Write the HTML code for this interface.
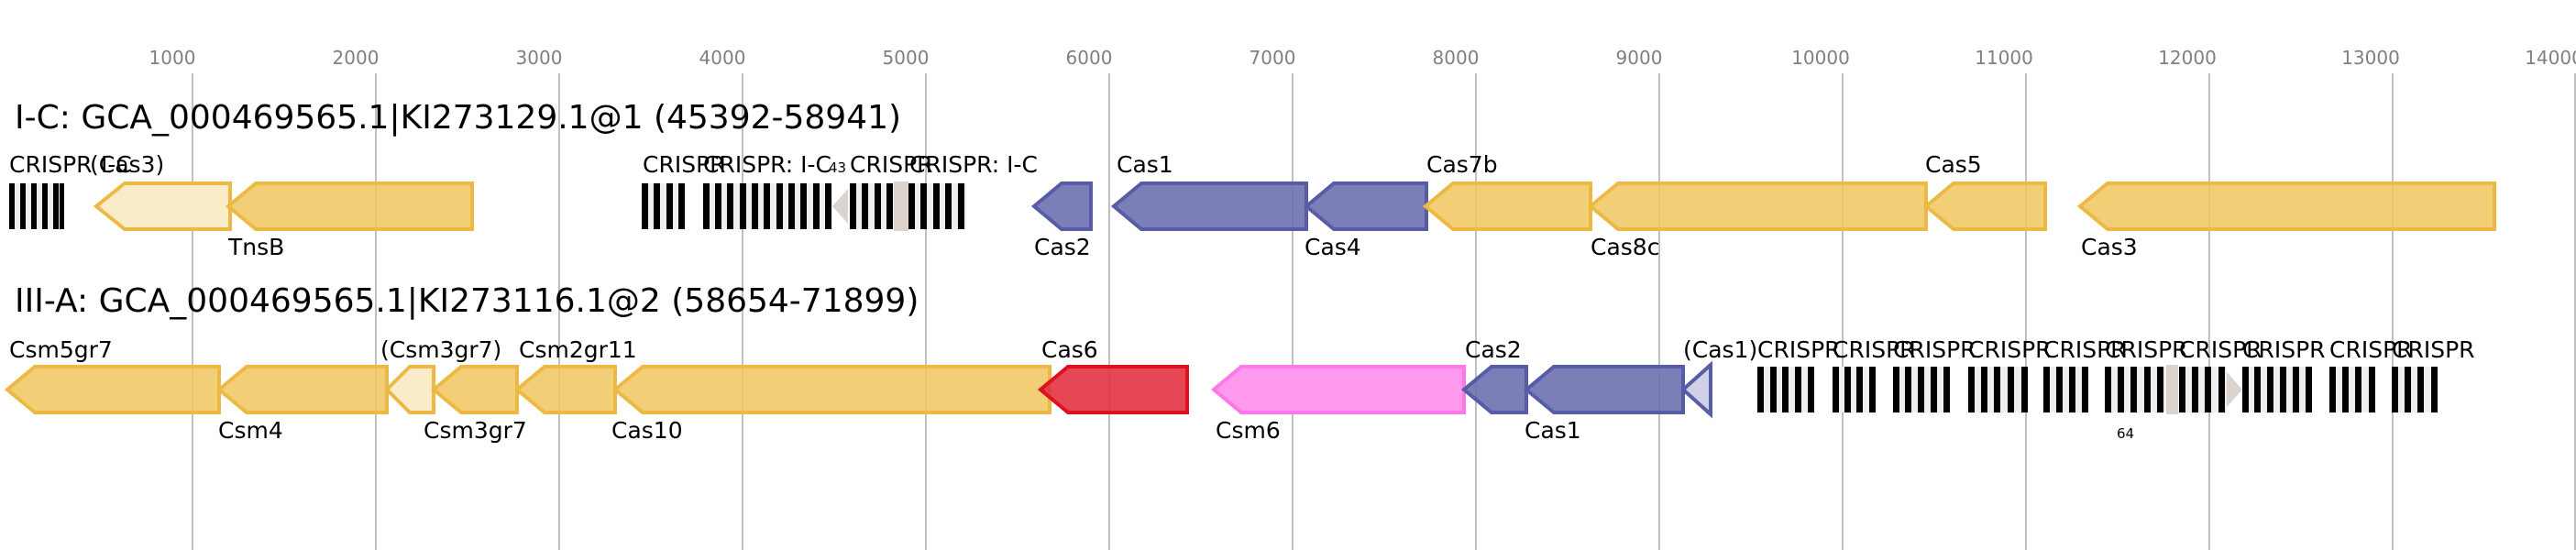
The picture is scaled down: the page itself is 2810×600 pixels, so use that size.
<!DOCTYPE html>
<html><head><meta charset="utf-8"><style>
html,body{margin:0;padding:0;background:#fff;}
svg{display:block;font-family:"DejaVu Sans","Liberation Sans",sans-serif;}
.t{font-size:20px;fill:#808080;text-anchor:middle}
.l{font-size:25px;fill:#000}
.h{font-size:36px;fill:#000}
.y{fill:#f0c65e;fill-opacity:.85;stroke:#ebb944;stroke-width:4}
.yl{fill:#faebc9;stroke:#ebb944;stroke-width:4}
.b{fill:#6a6cae;fill-opacity:.88;stroke:#585ca6;stroke-width:4}
.bl{fill:#d0d1e6;stroke:#585ca6;stroke-width:4}
.r{fill:#e33343;fill-opacity:.9;stroke:#dd1122;stroke-width:4}
.p{fill:#ff99ee;stroke:#ff77e8;stroke-width:4}
.k{fill:#000}
.g{fill:#eeeeee}
.be{fill:#dcd3cc}
</style></head><body>
<svg width="2810" height="600" viewBox="0 0 2810 600">
<g stroke="#c0c0c0" stroke-width="2">
<line x1="210" y1="80" x2="210" y2="600"/><line x1="410" y1="80" x2="410" y2="600"/><line x1="610" y1="80" x2="610" y2="600"/><line x1="810" y1="80" x2="810" y2="600"/><line x1="1010" y1="80" x2="1010" y2="600"/><line x1="1210" y1="80" x2="1210" y2="600"/><line x1="1410" y1="80" x2="1410" y2="600"/><line x1="1610" y1="80" x2="1610" y2="600"/><line x1="1810" y1="80" x2="1810" y2="600"/><line x1="2010" y1="80" x2="2010" y2="600"/><line x1="2210" y1="80" x2="2210" y2="600"/><line x1="2410" y1="80" x2="2410" y2="600"/><line x1="2610" y1="80" x2="2610" y2="600"/><line x1="2809" y1="80" x2="2809" y2="600"/>
</g>
<g class="t">
<text x="188" y="70">1000</text><text x="388" y="70">2000</text><text x="588" y="70">3000</text><text x="788" y="70">4000</text><text x="988" y="70">5000</text><text x="1188" y="70">6000</text><text x="1388" y="70">7000</text><text x="1588" y="70">8000</text><text x="1788" y="70">9000</text><text x="1986" y="70">10000</text><text x="2186" y="70">11000</text><text x="2386" y="70">12000</text><text x="2586" y="70">13000</text><text x="2786" y="70">14000</text>
</g>

<text class="h" x="16" y="140">I-C: GCA_000469565.1|KI273129.1@1 (45392-58941)</text>

<rect class="g" x="10" y="200" width="60" height="50"/>
<rect class="k" x="10" y="200" width="6" height="50"/><rect class="k" x="22" y="200" width="6" height="50"/><rect class="k" x="34" y="200" width="6" height="50"/><rect class="k" x="46" y="200" width="6" height="50"/><rect class="k" x="58" y="200" width="6" height="50"/><rect class="k" x="65" y="200" width="5" height="50"/>
<rect class="g" x="700" y="200" width="47" height="50"/>
<rect class="k" x="700" y="200" width="7" height="50"/><rect class="k" x="713" y="200" width="7" height="50"/><rect class="k" x="727" y="200" width="7" height="50"/><rect class="k" x="740" y="200" width="7" height="50"/>
<rect class="g" x="767" y="200" width="141" height="50"/>
<rect class="k" x="767" y="200" width="7" height="50"/><rect class="k" x="780" y="200" width="7" height="50"/><rect class="k" x="793" y="200" width="7" height="50"/><rect class="k" x="807" y="200" width="7" height="50"/><rect class="k" x="820" y="200" width="7" height="50"/><rect class="k" x="833" y="200" width="7" height="50"/><rect class="k" x="847" y="200" width="7" height="50"/><rect class="k" x="860" y="200" width="7" height="50"/><rect class="k" x="873" y="200" width="7" height="50"/><rect class="k" x="887" y="200" width="7" height="50"/><rect class="k" x="900" y="200" width="7" height="50"/>
<polygon fill="#dcd3cc" points="908,225 925,206 925,244"/>
<rect class="g" x="927" y="200" width="48" height="50"/>
<rect class="k" x="927" y="200" width="7" height="50"/><rect class="k" x="940" y="200" width="7" height="50"/><rect class="k" x="954" y="200" width="7" height="50"/><rect class="k" x="967" y="200" width="7" height="50"/>
<rect class="be" x="975" y="198" width="16" height="54"/>
<rect class="g" x="991" y="200" width="63" height="50"/>
<rect class="k" x="991" y="200" width="7" height="50"/><rect class="k" x="1004" y="200" width="7" height="50"/><rect class="k" x="1018" y="200" width="7" height="50"/><rect class="k" x="1031" y="200" width="7" height="50"/><rect class="k" x="1045" y="200" width="7" height="50"/>

<polygon class="yl" points="105,225 136,200 251,200 251,250 136,250"/>
<polygon class="y" points="249,225 279,200 515,200 515,250 279,250"/>
<polygon class="b" points="1128,225 1158,200 1190,200 1190,250 1158,250"/>
<polygon class="b" points="1215,225 1245,200 1425,200 1425,250 1245,250"/>
<polygon class="b" points="1425,225 1455,200 1556,200 1556,250 1455,250"/>
<polygon class="y" points="1555,225 1585,200 1735,200 1735,250 1585,250"/>
<polygon class="y" points="1735,225 1765,200 2101,200 2101,250 1765,250"/>
<polygon class="y" points="2101,225 2131,200 2231,200 2231,250 2131,250"/>
<polygon class="y" points="2269,225 2299,200 2721,200 2721,250 2299,250"/>

<g class="l">
<text x="10" y="188">CRISPR</text><text x="98" y="188">(Cas3)</text><text x="110" y="188">I-C</text>
<text x="249" y="278">TnsB</text>
<text x="701" y="188">CRISPR</text><text x="767" y="188">CRISPR: I-C</text>
<text x="904" y="188" style="font-size:15px">43</text>
<text x="927" y="188">CRISPR</text><text x="992" y="188">CRISPR: I-C</text>
<text x="1128" y="278">Cas2</text>
<text x="1218" y="188">Cas1</text>
<text x="1423" y="278">Cas4</text>
<text x="1556" y="188">Cas7b</text>
<text x="1735" y="278">Cas8c</text>
<text x="2100" y="188">Cas5</text>
<text x="2270" y="278">Cas3</text>
</g>

<text class="h" x="16" y="340">III-A: GCA_000469565.1|KI273116.1@2 (58654-71899)</text>

<polygon class="y" points="8,425 38,400 239,400 239,450 38,450"/>
<polygon class="y" points="239,425 269,400 422,400 422,450 269,450"/>
<polygon class="yl" points="422,425 447,400 473,400 473,450 447,450"/>
<polygon class="y" points="473,425 503,400 564,400 564,450 503,450"/>
<polygon class="y" points="564,425 594,400 671,400 671,450 594,450"/>
<polygon class="y" points="671,425 701,400 1145,400 1145,450 701,450"/>
<polygon class="r" points="1135,425 1165,400 1295,400 1295,450 1165,450"/>
<polygon class="p" points="1324,425 1354,400 1597,400 1597,450 1354,450"/>
<polygon class="b" points="1597,425 1627,400 1665,400 1665,450 1627,450"/>
<polygon class="b" points="1665,425 1695,400 1836,400 1836,450 1695,450"/>
<polygon class="bl" points="1836,425 1866,398 1866,452"/>

<rect class="g" x="1917" y="400" width="62" height="50"/>
<rect class="k" x="1917" y="400" width="7" height="50"/><rect class="k" x="1931" y="400" width="7" height="50"/><rect class="k" x="1944" y="400" width="7" height="50"/><rect class="k" x="1958" y="400" width="7" height="50"/><rect class="k" x="1972" y="400" width="7" height="50"/>
<rect class="g" x="1999" y="400" width="47" height="50"/>
<rect class="k" x="1999" y="400" width="7" height="50"/><rect class="k" x="2012" y="400" width="7" height="50"/><rect class="k" x="2025" y="400" width="7" height="50"/><rect class="k" x="2039" y="400" width="7" height="50"/>
<rect class="g" x="2065" y="400" width="62" height="50"/>
<rect class="k" x="2065" y="400" width="7" height="50"/><rect class="k" x="2078" y="400" width="7" height="50"/><rect class="k" x="2092" y="400" width="7" height="50"/><rect class="k" x="2106" y="400" width="7" height="50"/><rect class="k" x="2120" y="400" width="7" height="50"/>
<rect class="g" x="2147" y="400" width="65" height="50"/>
<rect class="k" x="2147" y="400" width="7" height="50"/><rect class="k" x="2161" y="400" width="7" height="50"/><rect class="k" x="2175" y="400" width="7" height="50"/><rect class="k" x="2190" y="400" width="7" height="50"/><rect class="k" x="2205" y="400" width="7" height="50"/>
<rect class="g" x="2229" y="400" width="49" height="50"/>
<rect class="k" x="2229" y="400" width="7" height="50"/><rect class="k" x="2243" y="400" width="7" height="50"/><rect class="k" x="2257" y="400" width="7" height="50"/><rect class="k" x="2271" y="400" width="7" height="50"/>
<rect class="g" x="2296" y="400" width="66" height="50"/>
<rect class="k" x="2296" y="400" width="7" height="50"/><rect class="k" x="2310" y="400" width="7" height="50"/><rect class="k" x="2324" y="400" width="7" height="50"/><rect class="k" x="2339" y="400" width="7" height="50"/><rect class="k" x="2353" y="400" width="7" height="50"/>
<rect class="be" x="2363" y="398" width="13" height="54"/>
<rect class="g" x="2377" y="400" width="52" height="50"/>
<rect class="k" x="2377" y="400" width="7" height="50"/><rect class="k" x="2391" y="400" width="7" height="50"/><rect class="k" x="2405" y="400" width="7" height="50"/><rect class="k" x="2420" y="400" width="7" height="50"/>
<polygon fill="#dcd3cc" points="2429,406 2446,425 2429,444"/>
<rect class="g" x="2446" y="400" width="76" height="50"/>
<rect class="k" x="2446" y="400" width="7" height="50"/><rect class="k" x="2459" y="400" width="7" height="50"/><rect class="k" x="2473" y="400" width="7" height="50"/><rect class="k" x="2487" y="400" width="7" height="50"/><rect class="k" x="2501" y="400" width="7" height="50"/><rect class="k" x="2515" y="400" width="7" height="50"/>
<rect class="g" x="2541" y="400" width="50" height="50"/>
<rect class="k" x="2541" y="400" width="7" height="50"/><rect class="k" x="2555" y="400" width="7" height="50"/><rect class="k" x="2569" y="400" width="7" height="50"/><rect class="k" x="2584" y="400" width="7" height="50"/>
<rect class="g" x="2609" y="400" width="50" height="50"/>
<rect class="k" x="2609" y="400" width="7" height="50"/><rect class="k" x="2623" y="400" width="7" height="50"/><rect class="k" x="2637" y="400" width="7" height="50"/><rect class="k" x="2652" y="400" width="7" height="50"/>

<g class="l">
<text x="10" y="390">Csm5gr7</text>
<text x="238" y="478">Csm4</text>
<text x="415" y="390">(Csm3gr7)</text>
<text x="462" y="478">Csm3gr7</text>
<text x="566" y="390">Csm2gr11</text>
<text x="667" y="478">Cas10</text>
<text x="1136" y="390">Cas6</text>
<text x="1326" y="478">Csm6</text>
<text x="1598" y="390">Cas2</text>
<text x="1663" y="478">Cas1</text>
<text x="1836" y="390">(Cas1)</text>
<text x="1917" y="390">CRISPR</text><text x="1999" y="390">CRISPR</text><text x="2065" y="390">CRISPR</text><text x="2147" y="390">CRISPR</text><text x="2229" y="390">CRISPR</text><text x="2296" y="390">CRISPR</text><text x="2377" y="390">CRISPR</text><text x="2446" y="390">CRISPR</text><text x="2541" y="390">CRISPR</text><text x="2609" y="390">CRISPR</text>
<text x="2309" y="478" style="font-size:15px">64</text>
</g>
</svg>
</body></html>
